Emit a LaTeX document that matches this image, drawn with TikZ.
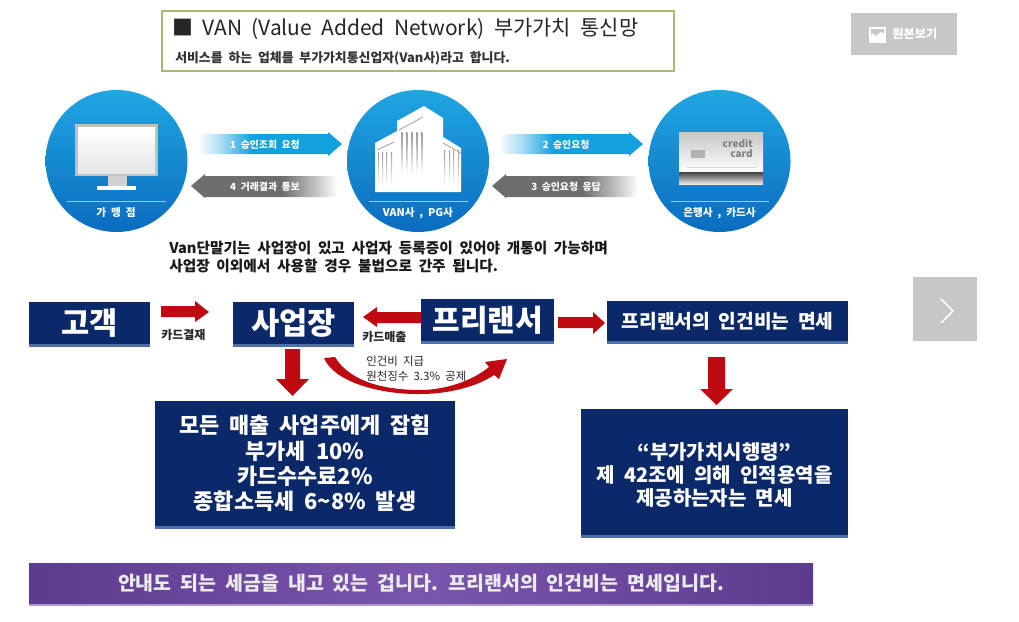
\documentclass[tikz,border=0pt]{standalone}
\usepackage{fontspec}
\setmainfont{Noto Sans CJK KR}[WordSpace=2]
\usetikzlibrary{shadows}
\definecolor{navy}{HTML}{0B2868}
\definecolor{redarrow}{HTML}{BE0A10}
\definecolor{cirtop}{HTML}{1FA6E2}
\definecolor{cirbot}{HTML}{0B6CC0}
\definecolor{arrblue}{HTML}{12A0DE}
\definecolor{arrgray}{HTML}{6E6E6E}
\definecolor{ltgreen}{HTML}{A6BC6C}
\definecolor{purpleA}{HTML}{5C3B8E}
\definecolor{purpleB}{HTML}{7A55AC}
\definecolor{bevel}{HTML}{4F6FA8}
\pgfdeclarehorizontalshading{blueshade}{100bp}{color(0bp)=(white); color(25bp)=(white); color(33bp)=(arrblue!35!white); color(44bp)=(arrblue); color(100bp)=(arrblue)}
\pgfdeclarehorizontalshading{grayshade}{100bp}{color(0bp)=(arrgray); color(56bp)=(arrgray); color(67bp)=(arrgray!45!white); color(75bp)=(white); color(100bp)=(white)}
\tikzset{
 x=0.75pt,y=-0.75pt,
 navybox/.style={fill=navy,draw=none,text=white,inner sep=0pt,outer sep=0pt,align=center,drop shadow={shadow xshift=0pt,shadow yshift=-2.2pt,fill=bevel,opacity=1}},
 circ/.style={circle,minimum size=106.5pt,inner sep=0pt,outer sep=0pt,top color=cirtop,bottom color=cirbot},
 whitelab/.style={text=white,font=\fontsize{8}{9}\selectfont\bfseries},
 arrlab/.style={text=white,font=\fontsize{7.4}{9}\selectfont\bfseries},
 redfill/.style={fill=redarrow,draw=none},
 blk/.style={text=black!90,font=\fontsize{11}{12}\selectfont\bfseries,anchor=west,inner sep=0pt},
 small/.style={text=black!85,font=\fontsize{8.6}{9.5}\selectfont,anchor=west,inner sep=0pt,align=left},
 hatch/.style={top color=black!40,bottom color=white,draw=none},
}
\begin{document}
\begin{tikzpicture}
\useasboundingbox (0,0) rectangle (1019,621);
\fill[white] (0,0) rectangle (1019,621);
% title
\node[draw=ltgreen,line width=1.5pt,minimum width=384pt,minimum height=45pt,inner sep=0pt,outer sep=0pt,anchor=north west] (titlebox) at (161.5,11) {};
\node[anchor=west,inner sep=0pt,font=\fontsize{15.7}{18}\selectfont,text=black!85] (title) at (172,29) {■ VAN (Value Added Network) 부가가치 통신망};
\node[anchor=west,inner sep=0pt,font=\fontsize{9.65}{10}\selectfont\bfseries,text=black!80] (sub) at (175,58) {서비스를 하는 업체를 부가가치통신업자(Van사)라고 합니다.};
% button
\fill[black!22] (851,13) rectangle (957,55);
\fill[white] (869,27) rectangle (886,43);
\fill[black!22] (871,29) -- (884,29) -- (884,33) -- (880,32) -- (876,36) -- (873,33) -- (871,35) -- cycle;
\node[text=white,font=\fontsize{9.2}{10}\selectfont\bfseries,anchor=west,inner sep=0pt] (orig) at (892,34) {원본보기};
% next button
\fill[black!22] (913,277) rectangle (977,341);
\draw[white,line width=1.3pt] (941,299) -- (953,311) -- (941,323);
% circles
\node[circ] (c1) at (116.5,161) {};
\node[circ] (c2) at (418,161) {};
\node[circ] (c3) at (719.5,161) {};
\draw[cirtop!50!white,line width=.7pt] (67,201) -- (166,201);
\draw[cirtop!50!white,line width=.7pt] (369,201) -- (468,201);
\draw[cirtop!50!white,line width=.7pt] (671,201) -- (769,201);
\node[whitelab] (l1) at (116,213) {가 맹 점};
\node[whitelab] (l2) at (418,213) {VAN사 , PG사};
\node[whitelab] (l3) at (719.5,213) {은행사 , 카드사};
% monitor
\fill[black!18] (108,175) rectangle (127,186);
\fill[white] (97,186) rectangle (136,190);
\fill[black!25] (75,124) rectangle (158,176);
\fill[top color=white,bottom color=black!10] (78,127) rectangle (155,173);
% building
\fill[white] (375,192) -- (375,143) -- (397,131) -- (397,121) -- (424,106) -- (443,118) -- (443,137) -- (461,148) -- (461,192) -- cycle;
\foreach \xx in {401,406,411,416,421}{\fill[hatch] (\xx,132) rectangle (\xx+1.4,175);}
\foreach \xx in {378,382,386,391}{\fill[hatch] (\xx,152) rectangle (\xx+1.2,186);}
\foreach \xx in {444,449,453,458}{\fill[hatch] (\xx,150) rectangle (\xx+1.2,186);}
\draw[black!30,line width=.8pt] (399,130) -- (423,117);
\draw[black!30,line width=.8pt] (377,150) -- (394,142);
\draw[black!30,line width=.8pt] (443,143) -- (461,153);
% card
\fill[top color=black!22,bottom color=white] (679,132) rectangle (763,172);
\fill[top color=black!75,bottom color=black!8] (679,172) rectangle (763,184);
\draw[black!15,line width=.5pt] (687,167) -- (757,167);
\fill[black!30] (691,150) rectangle (705,158);
\node[text=black!50,font=\fontsize{7.5}{7.6}\selectfont\bfseries,align=right,anchor=east,inner sep=0pt] (cc) at (753,148) {credit\\card};
% grad arrows
\shade[shading=blueshade] (197,134) -- (328,134) -- (328,132) -- (342,144) -- (328,156) -- (328,154) -- (197,154) -- cycle;
\node[arrlab] (a1) at (265,144.5) {1 승인조회 요청};
\shade[shading=blueshade] (498,134) -- (629,134) -- (629,132) -- (643,144) -- (629,156) -- (629,154) -- (498,154) -- cycle;
\node[arrlab] (a2) at (566,144.5) {2 승인요청};
\shade[shading=grayshade] (191,186) -- (205,174) -- (205,176) -- (337,176) -- (337,197) -- (205,197) -- (205,198) -- cycle;
\node[arrlab] (a4) at (265,186.5) {4 거래결과 통보};
\shade[shading=grayshade] (492,186) -- (506,174) -- (506,176) -- (638,176) -- (638,197) -- (506,197) -- (506,198) -- cycle;
\node[arrlab] (a3) at (566,186.5) {3 승인요청 응답};
% notes
\node[blk] (n1) at (169,248) {Van단말기는 사업장이 있고 사업자 등록증이 있어야 개통이 가능하며};
\node[blk] (n2) at (169,266) {사업장 이외에서 사용할 경우 불법으로 간주 됩니다.};
% flow boxes
\node[navybox,anchor=north west,minimum width=91pt,minimum height=31.5pt,font=\fontsize{23}{24}\selectfont\bfseries] (gogaek) at (29,302) {고객};
\node[navybox,anchor=north west,minimum width=91pt,minimum height=31.5pt,font=\fontsize{23}{24}\selectfont\bfseries] (saeop) at (233,302) {사업장};
\node[navybox,anchor=north west,minimum width=100pt,minimum height=31.5pt,font=\fontsize{22.5}{24}\selectfont\bfseries] (free) at (421,299) {프리랜서};
\node[navybox,anchor=north west,minimum width=181pt,minimum height=30pt,font=\fontsize{14.4}{16}\selectfont\bfseries] (fee) at (607,301) {프리랜서의 인건비는 면세};
\node[navybox,anchor=north west,minimum width=225pt,minimum height=94pt,font=\fontsize{16.4}{19}\selectfont\bfseries] (bigL) at (155,401) {모든 매출 사업주에게 잡힘\\부가세 10\%\\카드수수료2\%\\종합소득세 6\textasciitilde 8\% 발생};
\node[navybox,anchor=north west,minimum width=200pt,minimum height=94.5pt] (bigR) at (581,409) {};
\node[text=white,align=center,inner sep=0pt,font=\fontsize{15}{17.2}\selectfont\bfseries] (bigRtext) at (714.5,475) {“부가가치시행령”\\제 42조에 의해 인적용역을\\제공하는자는 면세};
\node[anchor=north west,minimum width=588pt,minimum height=30pt,inner sep=0pt,outer sep=0pt,left color=purpleA,right color=purpleA,middle color=purpleB,text=black!8,font=\fontsize{14.6}{16}\selectfont\bfseries,drop shadow={shadow xshift=0pt,shadow yshift=-2.2pt,fill=purpleB!60!white,opacity=1}] (bot) at (29,563) {안내도 되는 세금을 내고 있는 겁니다. 프리랜서의 인건비는 면세입니다.};
% red arrows
\fill[redfill] (161,306) -- (195,306) -- (195,301) -- (209,312) -- (195,322) -- (195,317) -- (161,317) -- cycle;
\fill[redfill] (421,312) -- (377,312) -- (377,307) -- (363,317) -- (377,327) -- (377,323) -- (421,323) -- cycle;
\fill[redfill] (558,317) -- (593,317) -- (593,312) -- (605,323) -- (593,334) -- (593,328) -- (558,328) -- cycle;
\fill[redfill] (285,349) -- (300,349) -- (300,379) -- (309,379) -- (292.5,396) -- (276,379) -- (285,379) -- cycle;
\fill[redfill] (708,357) -- (725,357) -- (725,389) -- (733,389) -- (716.5,405) -- (700,389) -- (708,389) -- cycle;
\fill[redfill] (324,358) .. controls (334,382) and (380,394.5) .. (420,394) .. controls (450,394) and (478,386) .. (494,375) -- (499,379) -- (507,359) -- (485,362) -- (489,367) .. controls (472,381) and (445,390) .. (420,390) .. controls (385,390) and (350,382) .. (335,357) -- cycle;
% labels
\node[small,font=\fontsize{9}{10}\selectfont\bfseries] (kg) at (161,335) {카드결재};
\node[small,font=\fontsize{9}{10}\selectfont\bfseries] (km) at (362,337) {카드매출};
\node[small] (p1) at (366,361) {인건비 지급};
\node[small] (p2) at (366,376) {원천징수 3.3\% 공제};
\end{tikzpicture}
\end{document}
